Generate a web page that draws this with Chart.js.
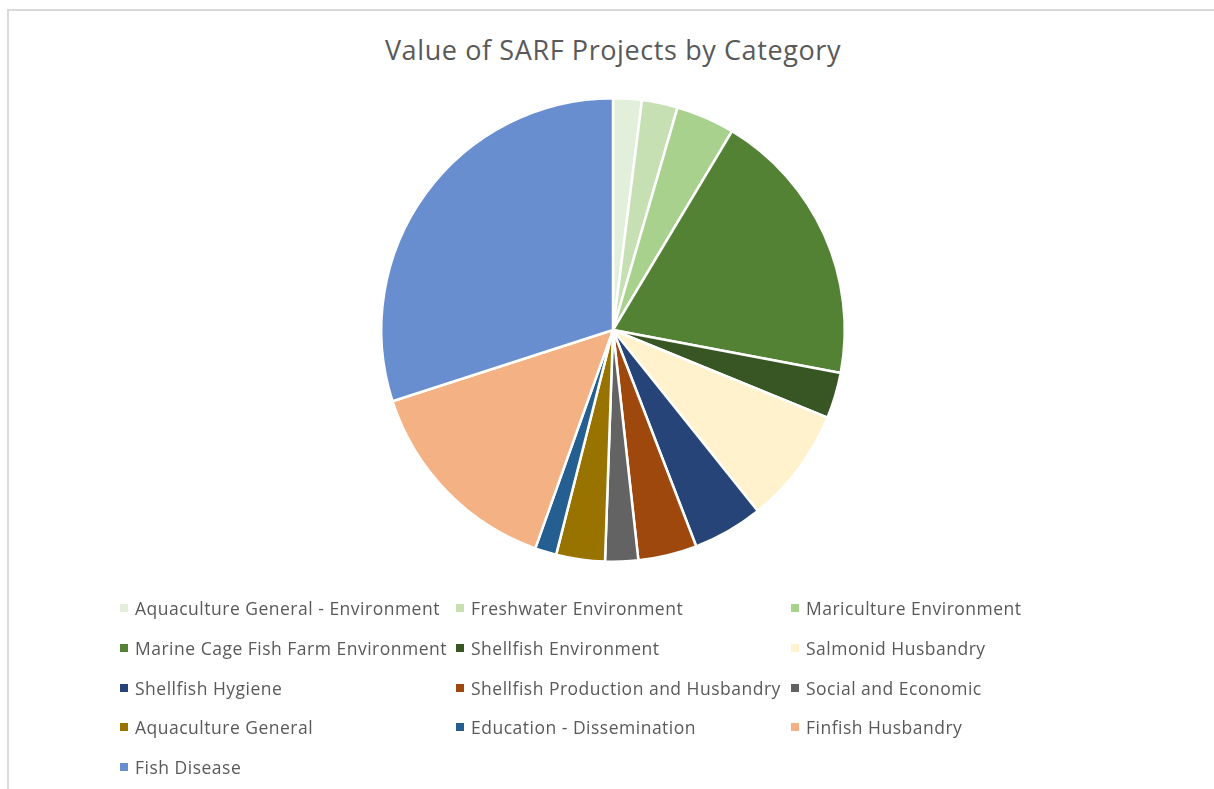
<!DOCTYPE html>
<html>
<head>
<meta charset="utf-8">
<script src="https://cdn.jsdelivr.net/npm/chart.js@4.4.1/dist/chart.umd.min.js"></script>
<style>
  html, body { margin: 0; padding: 0; background: #fff; }
  #wrap { position: relative; width: 1214px; height: 789px; overflow: hidden; font-family: "Open Sans", sans-serif; }
  #frame { position: absolute; left: 7px; top: 9px; right: -5px; bottom: -5px; border-top: 2px solid #d9d9d9; border-left: 2px solid #d9d9d9; }
  #title { position: absolute; left: 0; width: 1226px; top: 30px; text-align: center; font-size: 27px; letter-spacing: 0.6px; color: #595959; line-height: 40px; }
  #chartBox { position: absolute; left: 0; top: 0; width: 1214px; height: 789px; }
  #legend { position: absolute; left: 0; top: 0; }
  .item { position: absolute; font-size: 17.5px; letter-spacing: 0.5px; color: #595959; white-space: nowrap; line-height: 20px; }
  .item span.box { position: absolute; left: -15px; top: 6px; width: 8px; height: 8px; }
</style>
</head>
<body>
<div id="wrap">
  <div id="frame"></div>
  <div id="title">Value of SARF Projects by Category</div>
  <div id="chartBox"><canvas id="graficoPizza"></canvas></div>
  <div id="legend"></div>
</div>
<script>
const categorias = [
  'Aquaculture General - Environment',
  'Freshwater Environment',
  'Mariculture Environment',
  'Marine Cage Fish Farm Environment',
  'Shellfish Environment',
  'Salmonid Husbandry',
  'Shellfish Hygiene',
  'Shellfish Production and Husbandry',
  'Social and Economic',
  'Aquaculture General',
  'Education - Dissemination',
  'Finfish Husbandry',
  'Fish Disease'
];
// share of total value (%)
const valores = [2.0, 2.5, 4.1, 19.4, 3.2, 8.1, 4.9, 4.1, 2.3, 3.4, 1.5, 14.6, 30.0];
const cores = [
  '#E2EFDA', '#C6E0B4', '#A9D18E', '#548235', '#375623', '#FFF2CC',
  '#264478', '#9E480E', '#636363', '#997300', '#255E91', '#F4B183', '#698ED0'
];

const ctxPie = document.getElementById('graficoPizza').getContext('2d');
const grafico = new Chart(ctxPie, {
  type: 'pie',
  data: {
    labels: categorias,
    datasets: [{
      label: 'Value',
      data: valores,
      backgroundColor: cores,
      borderColor: '#ffffff',
      borderWidth: 2.5
    }]
  },
  options: {
    responsive: true,
    maintainAspectRatio: false,
    animation: false,
    layout: {
      padding: { left: 380, right: 368, top: 97, bottom: 226 }
    },
    plugins: {
      legend: { display: false },
      tooltip: { enabled: false }
    }
  }
});

// legend in three fixed columns, like the original
const colX = [135, 471, 806];
const rowY = [598, 638, 678, 717, 757];
const legenda = document.getElementById('legend');
grafico.options.plugins.legend.labels.generateLabels(grafico).forEach((it, i) => {
  const div = document.createElement('div');
  div.className = 'item';
  div.style.left = colX[i % 3] + 'px';
  div.style.top = rowY[Math.floor(i / 3)] + 'px';
  const box = document.createElement('span');
  box.className = 'box';
  box.style.background = it.fillStyle;
  div.appendChild(box);
  div.appendChild(document.createTextNode(it.text));
  legenda.appendChild(div);
});
</script>
</body>
</html>
